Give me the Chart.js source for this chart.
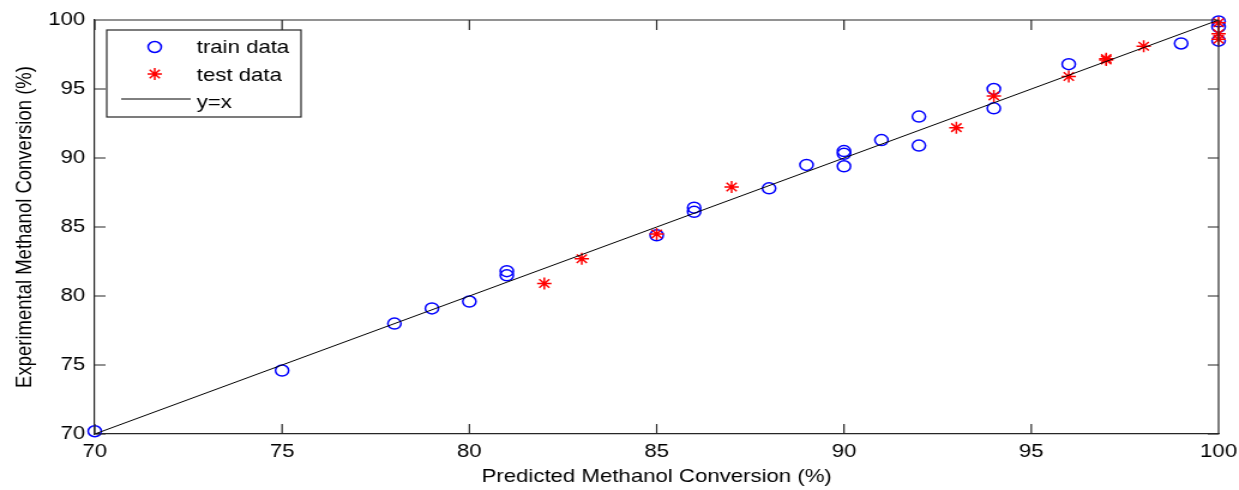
<!DOCTYPE html>
<html>
<head>
<meta charset="utf-8">
<script src="https://cdn.jsdelivr.net/npm/chart.js@4/dist/chart.umd.min.js"></script>
<style>
  html, body { margin: 0; padding: 0; background: #fff; overflow: hidden; }
  #wrap { width: 1239px; height: 490px; }
  /* the original figure is stretched sideways, so draw narrower and widen */
  #myChart { transform: scaleX(1.1994); transform-origin: 0 0; }
</style>
</head>
<body>
<div id="wrap"><canvas id="myChart" width="1033" height="490"></canvas></div>
<script>
// train data (blue circles)
var trainPred = [70, 75, 78, 79, 80, 81, 81, 85, 86, 86, 88, 89, 90, 90, 90, 91, 92, 92, 94, 94, 96, 99, 100, 100, 100];
var trainExp  = [70.2, 74.6, 78.0, 79.1, 79.6, 81.5, 81.8, 84.4, 86.1, 86.4, 87.8, 89.5, 90.5, 90.3, 89.4, 91.3, 93.0, 90.9, 95.0, 93.6, 96.8, 98.3, 99.9, 99.5, 98.5];
// test data (red stars)
var testPred = [82, 83, 85, 87, 93, 94, 96, 97, 97, 98, 100, 100, 100];
var testExp  = [80.9, 82.7, 84.5, 87.9, 92.2, 94.5, 95.9, 97.1, 97.2, 98.1, 99.8, 99.0, 98.6];
// y = x reference line
var lineX = [70, 100];

var axisTicks = [70, 75, 80, 85, 90, 95, 100];
var legendLabels = ["train data", "test data", "y=x"];

function toPoints(xs, ys) {
    var out = [];
    for (var i = 0; i < xs.length; i++) {
        out.push({ x: xs[i], y: ys[i] });
    }
    return out;
}

var FONT = "'Liberation Sans', Arial, sans-serif";
var FSIZE = 18.5;
var AXIS = "#262626";

// MATLAB-like box: inward ticks on all sides, top/right border, legend box
var boxPlugin = {
    id: 'boxPlugin',
    afterDraw: function (chart) {
        var ctx = chart.ctx;
        var a = chart.chartArea;
        var xs = chart.scales.x, ys = chart.scales.y;
        ctx.save();
        ctx.strokeStyle = AXIS;
        ctx.lineWidth = 1.2;
        ctx.beginPath();
        ctx.moveTo(a.left, a.top); ctx.lineTo(a.right, a.top);
        ctx.moveTo(a.right, a.top); ctx.lineTo(a.right, a.bottom);
        axisTicks.forEach(function (v) {
            var px = xs.getPixelForValue(v);
            ctx.moveTo(px, a.bottom); ctx.lineTo(px, a.bottom - 10);
            ctx.moveTo(px, a.top); ctx.lineTo(px, a.top + 10);
            var py = ys.getPixelForValue(v);
            ctx.moveTo(a.left, py); ctx.lineTo(a.left + 9, py);
            ctx.moveTo(a.right, py); ctx.lineTo(a.right - 9, py);
        });
        ctx.stroke();

        // legend
        var lx = a.left + 10, ly = a.top + 10, lw = 162, lh = 87;
        ctx.fillStyle = "#fff";
        ctx.fillRect(lx, ly, lw, lh);
        ctx.lineWidth = 1.2;
        ctx.strokeStyle = AXIS;
        ctx.strokeRect(lx, ly, lw, lh);

        var mx = lx + 40;
        // circle
        ctx.lineWidth = 1.5;
        ctx.strokeStyle = "#0000ff";
        ctx.beginPath();
        ctx.arc(mx, ly + 17, 5.5, 0, Math.PI * 2);
        ctx.stroke();
        // star
        ctx.strokeStyle = "#ff0000";
        ctx.beginPath();
        var sx = mx, sy = ly + 44, r = 6, d = r * Math.SQRT1_2;
        ctx.moveTo(sx - r, sy); ctx.lineTo(sx + r, sy);
        ctx.moveTo(sx, sy - r); ctx.lineTo(sx, sy + r);
        ctx.moveTo(sx - d, sy - d); ctx.lineTo(sx + d, sy + d);
        ctx.moveTo(sx - d, sy + d); ctx.lineTo(sx + d, sy - d);
        ctx.stroke();
        // line
        ctx.strokeStyle = "#000";
        ctx.lineWidth = 1;
        ctx.beginPath();
        ctx.moveTo(lx + 12, ly + 69); ctx.lineTo(lx + 70, ly + 69);
        ctx.stroke();

        ctx.fillStyle = "#000";
        ctx.font = FSIZE + "px " + FONT;
        ctx.textAlign = "left";
        ctx.textBaseline = "alphabetic";
        ctx.fillText(legendLabels[0], lx + 75, ly + 23);
        ctx.fillText(legendLabels[1], lx + 75, ly + 51);
        ctx.fillText(legendLabels[2], lx + 75, ly + 78);
        ctx.restore();
    }
};

var ctx = document.getElementById("myChart");
var myChart = new Chart(ctx, {
    type: 'scatter',
    data: {
        datasets: [
            {
                label: legendLabels[2],
                type: 'line',
                data: toPoints(lineX, lineX),
                borderColor: '#000',
                borderWidth: 1,
                pointRadius: 0,
                fill: false,
                order: 0
            },
            {
                label: legendLabels[0],
                data: toPoints(trainPred, trainExp),
                pointStyle: 'circle',
                pointRadius: 5.5,
                borderWidth: 1.5,
                borderColor: '#0000ff',
                backgroundColor: 'rgba(0,0,0,0)',
                clip: false,
                order: 2
            },
            {
                label: legendLabels[1],
                data: toPoints(testPred, testExp),
                pointStyle: 'star',
                pointRadius: 6,
                borderWidth: 1.5,
                borderColor: '#ff0000',
                backgroundColor: '#ff0000',
                clip: false,
                order: 1
            }
        ]
    },
    plugins: [boxPlugin],
    options: {
        responsive: false,
        devicePixelRatio: 1,
        animation: false,
        layout: { padding: { left: 0, right: 17, top: 20, bottom: 0 } },
        plugins: {
            legend: { display: false },
            tooltip: { enabled: false }
        },
        scales: {
            x: {
                type: 'linear',
                min: 70, max: 100,
                afterBuildTicks: function (s) { s.ticks = axisTicks.map(function (v) { return { value: v }; }); },
                afterFit: function (s) { s.height = 56; s.paddingLeft = 0; s.paddingRight = 0; },
                grid: { display: true, drawOnChartArea: false, drawTicks: false },
                border: { display: true, color: AXIS, width: 1.2 },
                ticks: { padding: 7, color: '#000', font: { family: FONT, size: FSIZE }, maxRotation: 0 },
                title: {
                    display: true,
                    text: 'Predicted Methanol Conversion (%)',
                    color: '#000',
                    font: { family: FONT, size: FSIZE },
                    padding: { top: 0, bottom: 2 }
                }
            },
            y: {
                type: 'linear',
                min: 70, max: 100,
                afterBuildTicks: function (s) { s.ticks = axisTicks.map(function (v) { return { value: v }; }); },
                afterFit: function (s) { s.width = 79; s.paddingTop = 0; s.paddingBottom = 0; },
                grid: { display: true, drawOnChartArea: false, drawTicks: false },
                border: { display: true, color: AXIS, width: 1.2 },
                ticks: { padding: 8, color: '#000', font: { family: FONT, size: FSIZE } },
                title: {
                    display: true,
                    text: 'Experimental Methanol Conversion (%)',
                    color: '#000',
                    font: { family: FONT, size: FSIZE },
                    padding: { top: 10, bottom: 0 }
                }
            }
        }
    }
});
</script>
</body>
</html>
